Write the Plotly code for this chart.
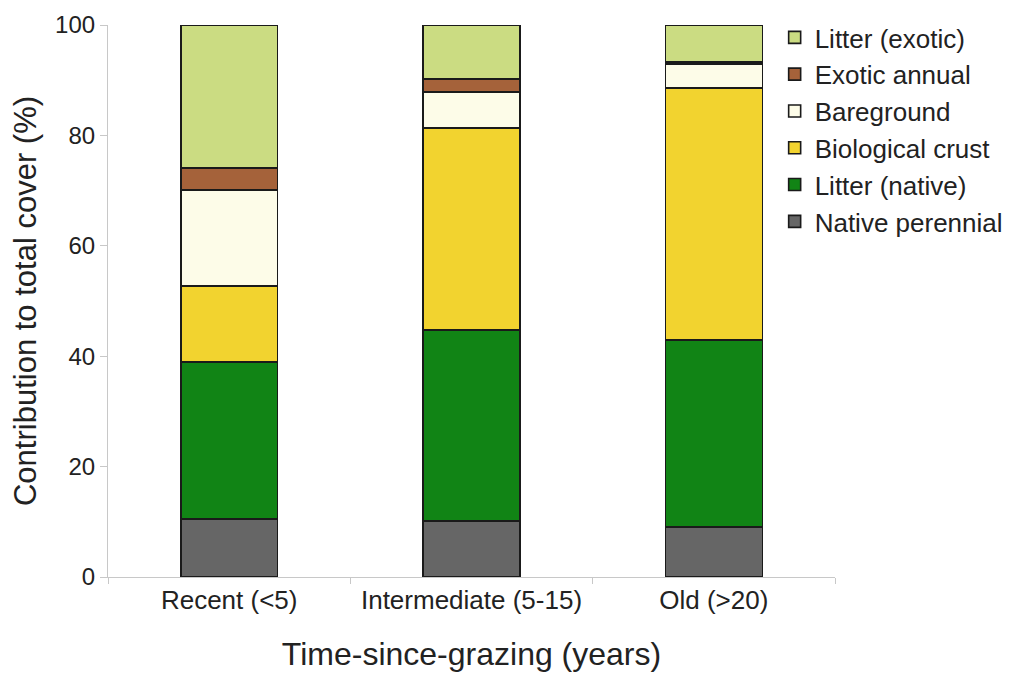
import plotly.graph_objects as go

categories = ["Recent (<5)", "Intermediate (5-15)", "Old (>20)"]

native_perennial = [10.5, 10.1, 9.1]
litter_native = [28.4, 34.6, 33.8]
biological_crust = [13.8, 36.6, 45.7]
bareground = [17.4, 6.6, 4.3]
exotic_annual = [4.0, 2.3, 0.4]
litter_exotic = [25.9, 9.8, 6.7]

series = [
    ("Native perennial", native_perennial, "#666666"),
    ("Litter (native)", litter_native, "#118415"),
    ("Biological crust", biological_crust, "#f2d32f"),
    ("Bareground", bareground, "#fdfce8"),
    ("Exotic annual", exotic_annual, "#a5623a"),
    ("Litter (exotic)", litter_exotic, "#cbdc82"),
]

fig = go.Figure()
for i, (name, vals, col) in enumerate(series):
    fig.add_trace(go.Bar(
        x=categories, y=vals, name=name,
        legendrank=len(series) - i,  # litter (exotic) on top of the legend
        marker=dict(color=col, line=dict(color="#1a1a1a", width=1.6)),
        width=0.4,
    ))

font = "Liberation Sans, Arial, sans-serif"
fig.update_layout(
    barmode="stack",
    width=1014, height=673,
    margin=dict(l=100, r=187, t=17, b=104, autoexpand=False),
    plot_bgcolor="white", paper_bgcolor="white",
    font=dict(family=font, size=26, color="#222222"),
    showlegend=True,
    legend=dict(
        x=0.917, xanchor="left", y=1.02, yanchor="top",
        xref="paper", yref="paper", traceorder="normal",
        font=dict(size=26, color="#222222"),
        bgcolor="rgba(0,0,0,0)",
    ),
    xaxis=dict(
        showline=True, linecolor="#c8c8c8", linewidth=1.2,
        ticks="outside", tickson="boundaries", tickcolor="#c8c8c8", ticklen=6,
        tickfont=dict(size=26),
        title=dict(text="Time-since-grazing (years)", font=dict(size=32), standoff=28),
        range=[-0.5, 2.5],
    ),
    yaxis=dict(
        range=[0, 100], tickvals=[0, 20, 40, 60, 80, 100],
        showline=True, linecolor="#c8c8c8", linewidth=1.2,
        ticks="outside", tickcolor="#c8c8c8", ticklen=7,
        showgrid=False, zeroline=False,
        tickfont=dict(size=24),
        title=dict(text="Contribution to total cover (%)", font=dict(size=31), standoff=12),
    ),
)

fig.write_html("out.html")
